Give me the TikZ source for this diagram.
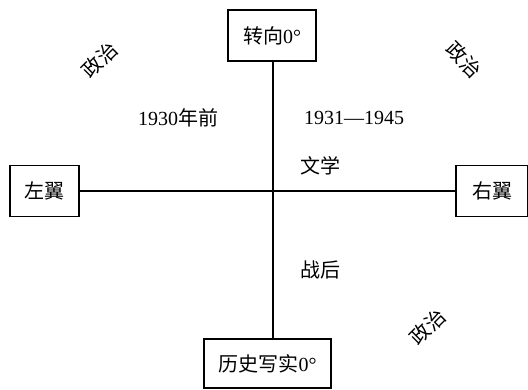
\documentclass[tikz,border=0pt]{standalone}
\usepackage{fontspec}
\setmainfont{Liberation Serif}
\newfontfamily\cjk{Noto Sans CJK SC}
\begin{document}
\begin{tikzpicture}[x=1pt,y=1pt,
  every node/.style={font=\fontsize{20}{23}\selectfont},
  boxnode/.style={draw,line width=1.2pt,inner sep=0pt},
  axis/.style={line width=2pt},
  lab/.style={inner sep=0pt}]
\useasboundingbox[fill=white] (0,0) rectangle (528,389);
\node[boxnode,minimum width=88pt,minimum height=51pt] (top) at (272,353.5) {{\cjk 转向}0°};
\node[boxnode,minimum width=127pt,minimum height=49pt] (bot) at (267.5,25.5) {{\cjk 历史写实}0°};
\node[boxnode,minimum width=69pt,minimum height=51pt] (left) at (44.5,198) {\cjk 左翼};
\node[boxnode,minimum width=72pt,minimum height=51pt] (right) at (492,198) {\cjk 右翼};
\draw[axis] (left.east) -- (right.west);
\draw[axis] (top.south -| 273,0) -- (273,0 |- bot.north);
\node[lab] (t1) at (178,271) {1930{\cjk 年前}};
\node[lab] (t2) at (354,271) {1931—1945};
\node[lab] (t3) at (320,223) {\cjk 文学};
\node[lab] (t4) at (320,119) {\cjk 战后};
\node[lab,rotate=45] (p1) at (100,329) {\cjk 政\hspace{1pt}治};
\node[lab,rotate=-45] (p2) at (464,329) {\cjk 政\hspace{1pt}治};
\node[lab,rotate=45] (p3) at (428,62) {\cjk 政\hspace{1pt}治};
\end{tikzpicture}
\end{document}
